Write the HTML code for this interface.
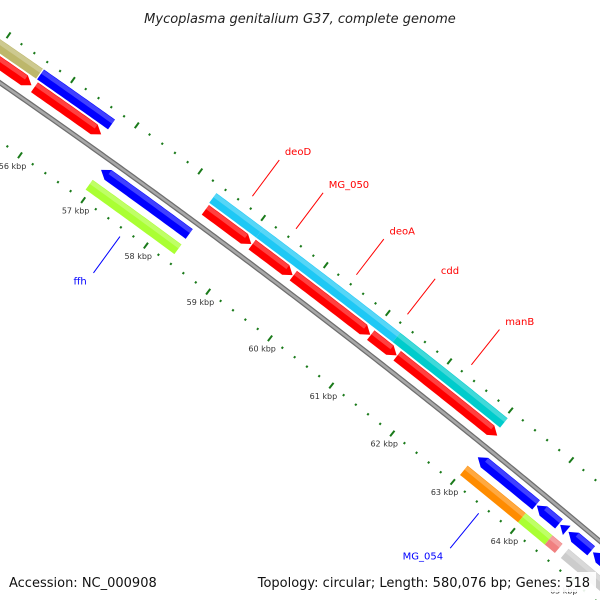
<!DOCTYPE html>
<html><head><meta charset="utf-8"><style>
html,body{margin:0;padding:0;background:#fff;width:600px;height:600px;overflow:hidden}
svg{display:block;font-family:"DejaVu Sans","Liberation Sans",sans-serif;overflow:hidden}
</style></head><body>
<svg id="map" width="600" height="600" viewBox="0 0 600 600">
<defs><clipPath id="frame"><rect x="0" y="0" width="600" height="600"/></clipPath></defs>
<text x="300" y="23" text-anchor="middle" font-size="13" font-style="italic" fill="#222">Mycoplasma genitalium G37, complete genome</text>
<g id="plot" clip-path="url(#frame)"></g>
</svg>
<script>
// ---- data ----
const featStart = [53500, 55620, 58330, 59077, 61278, 53500, 55650, 58343, 59090, 59750, 61000, 61430, 56960, 63050, 64030, 64420, 64560, 64970, 56946, 63016, 63983, 64430, 64700];
const featEnd   = [55604, 56731, 59077, 61278, 63033, 55604, 56696, 59077, 59739, 60993, 61422, 63069, 58361, 64018, 64400, 64530, 64940, 65400, 58361, 63983, 64430, 64600, 65600];
const featRing  = ['o','o','o','o','o','f','f','f','f','f','f','f','b','b','b','b','b','b','g','g','g','g','g'];
const featDir   = [0,0,0,0,0,1,1,1,1,1,1,1,-1,-1,-1,-1,-1,-1,0,0,0,0,0];
const featColor = ['#bdb76b','#0000ff','#1ec8f5','#1ec8f5','#00cccc','#ff0000','#ff0000','#ff0000','#ff0000','#ff0000','#ff0000','#ff0000','#0000ff','#0000ff','#0000ff','#0000ff','#0000ff','#0000ff','#aaff33','#ff8c00','#aaff33','#f08080','#cccccc'];
const tickKbp = [55,56,57,58,59,60,61,62,63,64,65];
const geneLabels = ['deoD','MG_050','deoA','cdd','manB','ffh','MG_054'];
const geneLabelBp = [58723, 59417, 60384, 61207, 62245, 57660, 63516];
// ---- geometry ----
const CX=-4548, CY=6657;
const RING={o:[8018,8030],f:[8004,8016],b:[7975,7987],g:[7956,7968]};
function ang(bp){return (-54.35+(bp-57000)*0.0005586)*Math.PI/180;}
function pt(bp,r){const a=ang(bp);return [CX+r*Math.cos(a),CY+r*Math.sin(a)];}
const NS='http://www.w3.org/2000/svg';
const svg=document.getElementById('map');
const plot=document.getElementById('plot');
function mk(tag,attrs,parent){const e=document.createElementNS(NS,tag);for(const k in attrs)e.setAttribute(k,attrs[k]);(parent||plot).appendChild(e);return e;}
function arcPts(b0,b1,r){const p=[];const n=Math.max(2,Math.ceil(Math.abs(b1-b0)/50));for(let i=0;i<=n;i++){p.push(pt(b0+(b1-b0)*i/n,r));}return p;}
const gFeat=mk('g',{});


// backbone
const bb=arcPts(53200,65800,7994).map(p=>p.join(',')).join(' ');
const b1=mk('polyline',{points:bb,fill:'none',stroke:'#6e6e6e','stroke-width':5});


mk('polyline',{points:bb,fill:'none',stroke:'#a8a8a8','stroke-width':2.5});
// features
const HEAD=110;
for(let i=0;i<featStart.length;i++){
  const [ri,ro]=RING[featRing[i]];const rm=(ri+ro)/2;
  let s=featStart[i],e=featEnd[i],d=featDir[i];
  let pts=[];
  if(d===1){const eb=e-HEAD;pts=pts.concat(arcPts(s,eb,ro));pts.push(pt(e,rm));pts=pts.concat(arcPts(eb,s,ri));}
  else if(d===-1){const sb=s+HEAD;pts.push(pt(s,rm));pts=pts.concat(arcPts(sb,e,ro));pts=pts.concat(arcPts(e,sb,ri));}
  else{pts=pts.concat(arcPts(s,e,ro));pts=pts.concat(arcPts(e,s,ri));}
  const p=mk('polygon',{points:pts.map(q=>q.join(',')).join(' '),fill:featColor[i]},gFeat);
  
  
  const hs=d===-1?s+HEAD:s, he=d===1?e-HEAD:e;
  const hp=arcPts(hs,he,ro-0.5).concat(arcPts(he,hs,rm+1));
  mk('polygon',{points:hp.map(q=>q.join(',')).join(' '),fill:'#fff','fill-opacity':0.25},gFeat);
}
// ticks
for(let bp=53200;bp<=65600;bp+=200){
  const major=bp%1000===0;
  [[7946,'inner'],[8038,'outer']].forEach(([r,nm])=>{
    const h=major?3.5:1.1;
    const a=pt(bp,r-h),b=pt(bp,r+h);
    const t=mk('line',{x1:a[0],y1:a[1],x2:b[0],y2:b[1],stroke:'#1a7a1a','stroke-width':2});
    
    
  });
}
tickKbp.forEach(k=>{
  const p=pt(k*1000,7933);
  const t=mk('text',{x:p[0],y:p[1]+3,'text-anchor':'middle','font-size':8,fill:'#333'});
  t.textContent=k+' kbp';
  
  
});
// gene labels
const inner=[false,false,false,false,false,true,true];
geneLabels.forEach((name,i)=>{
  const bp=geneLabelBp[i];const col=inner[i]?'#0000ff':'#ff0000';
  const r0=inner[i]?7938:8049, r1=inner[i]?7893:8094, r2=inner[i]?7885:8100;
  const a=pt(bp,r0),b=pt(bp,r1),c=pt(bp,r2);
  mk('line',{x1:a[0],y1:a[1],x2:b[0],y2:b[1],stroke:col,'stroke-width':1});
  const t=mk('text',{x:inner[i]?c[0]-2:c[0]+2,y:c[1]+(inner[i]?5:0),'text-anchor':inner[i]?'end':'start','font-size':10,fill:col});
  t.textContent=name;
  
  
});
// footer
mk('rect',{x:4,y:572,width:130,height:20,fill:'#fff','fill-opacity':0.9});
mk('rect',{x:280,y:572,width:316,height:20,fill:'#fff','fill-opacity':0.9});
const f1=mk('text',{x:9,y:587,'font-size':13,fill:'#111'});f1.textContent='Accession: NC_000908';


const f2=mk('text',{x:590,y:587,'font-size':13,'text-anchor':'end',fill:'#111'});f2.textContent='Topology: circular; Length: 580,076 bp; Genes: 518';


</script>
</body></html>
